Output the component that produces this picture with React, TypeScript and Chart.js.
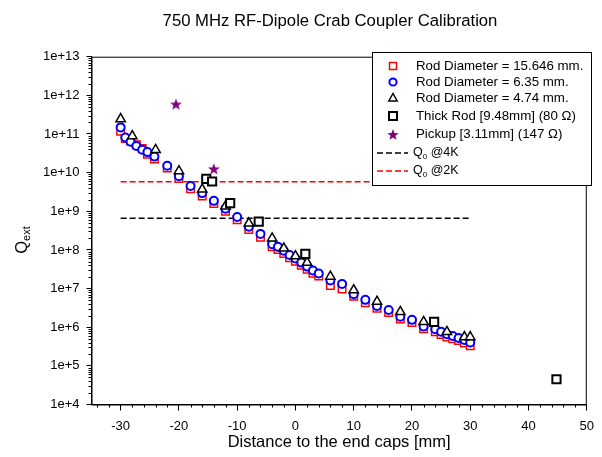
import React, { useEffect, useRef } from "react";
import { Chart, registerables } from "chart.js";

Chart.register(...registerables);

const FONT = "'Liberation Sans', Arial, sans-serif";

// shared positions for the 15.646 mm and 6.35 mm rods [mm]
const rodX = [
  -30, -29.2, -28.3, -27.3, -26.3, -25.4, -24.2, -22, -20, -18, -16, -14, -12, -10, -8, -6, -4, -3, -2, -1, 0,
  1, 2, 3, 4, 6, 8, 10, 12, 14, 16, 18, 20, 22, 24, 25, 26, 27, 28, 29, 30,
];
const rod15646 = [
  1.17e11, 7.6e10, 6.6e10, 5.25e10, 4.2e10, 3.0e10, 2.24e10, 1.32e10, 7.1e9, 3.8e9, 2.5e9, 1.58e9, 1.0e9, 6.0e8,
  3.4e8, 2.14e8, 1.2e8, 1.02e8, 8.1e7, 6.3e7, 5.1e7, 4.0e7, 3.16e7, 2.5e7, 2.1e7, 1.2e7, 9.8e6, 6.3e6, 4.3e6,
  3.1e6, 2.4e6, 1.62e6, 1.32e6, 9.1e5, 7.6e5, 6.5e5, 5.6e5, 5.0e5, 4.5e5, 3.9e5, 3.3e5,
];
const rod635 = [
  1.48e11, 8.1e10, 6.3e10, 4.9e10, 3.9e10, 3.4e10, 2.6e10, 1.5e10, 8.1e9, 4.5e9, 2.95e9, 1.86e9, 1.17e9, 7.1e8,
  4.0e8, 2.6e8, 1.41e8, 1.2e8, 9.5e7, 7.4e7, 6.0e7, 4.7e7, 3.7e7, 2.95e7, 2.45e7, 1.62e7, 1.32e7, 7.1e6, 5.1e6,
  3.55e6, 2.8e6, 1.86e6, 1.55e6, 1.05e6, 8.9e5, 7.6e5, 6.6e5, 5.9e5, 5.25e5, 4.7e5, 4.0e5,
];
const rod474X = [-30, -28, -24, -20, -16, -12, -8, -4, -2, 0, 2, 6, 10, 14, 18, 22, 26, 29, 30];
const rod474 = [
  2.45e11, 8.9e10, 3.9e10, 1.1e10, 3.7e9, 1.35e9, 4.9e8, 2.0e8, 1.1e8, 6.9e7, 4.7e7, 2.05e7, 9.1e6, 4.6e6, 2.5e6,
  1.38e6, 7.6e5, 5.6e5, 5.6e5,
];
const thickRodX = [-15.3, -14.3, -11.2, -6.3, 1.7, 23.8, 44.8];
const thickRod = [6.9e9, 5.9e9, 1.62e9, 5.4e8, 7.9e7, 1.38e6, 4.5e4];
const pickupX = [-20.5, -14.0];
const pickup = [5.9e11, 1.25e10];
const q0X = [-30, 30];
const q04K = [6.6e8, 6.6e8];
const q02K = [5.8e9, 5.8e9];

const xTicks = [-30, -20, -10, 0, 10, 20, 30, 40, 50];
const yTicks = [1e4, 1e5, 1e6, 1e7, 1e8, 1e9, 1e10, 1e11, 1e12, 1e13];

const PURPLE = "#800080";

function starPath(ctx: CanvasRenderingContext2D, cx: number, cy: number, ro: number, ri: number) {
  ctx.beginPath();
  for (let i = 0; i < 10; i++) {
    const r = i % 2 === 0 ? ro : ri;
    const a = -Math.PI / 2 + (i * Math.PI) / 5;
    const px = cx + r * Math.cos(a);
    const py = cy + r * Math.sin(a);
    if (i === 0) ctx.moveTo(px, py);
    else ctx.lineTo(px, py);
  }
  ctx.closePath();
}

function makeStar() {
  const c = document.createElement("canvas");
  c.width = 14;
  c.height = 14;
  const g = c.getContext("2d")!;
  g.fillStyle = PURPLE;
  starPath(g, 7, 7.5, 6.3, 2.6);
  g.fill();
  return c;
}

const pts = (xs: number[], ys: number[]) => xs.map((x, i) => ({ x, y: ys[i] }));

const decorPlugin = {
  id: "decor",
  afterDraw(chart: any) {
    const ctx: CanvasRenderingContext2D = chart.ctx;
    const { left, right, top, bottom } = chart.chartArea;
    const xs = chart.scales.x;
    const ys = chart.scales.y;
    ctx.save();

    // frame
    ctx.strokeStyle = "#000";
    ctx.lineWidth = 1;
    ctx.strokeRect(left + 0.5, top + 0.5, right - left - 1, bottom - top);

    // minor ticks
    ctx.beginPath();
    for (let v = -34; v <= 48; v += 2) {
      if (v % 10 === 0) continue;
      const px = Math.round(xs.getPixelForValue(v)) + 0.5;
      ctx.moveTo(px, bottom);
      ctx.lineTo(px, bottom + 3);
    }
    for (let d = 4; d < 13; d++) {
      for (let m = 2; m <= 9; m++) {
        const py = Math.round(ys.getPixelForValue(m * Math.pow(10, d))) + 0.5;
        ctx.moveTo(left - 3, py);
        ctx.lineTo(left, py);
      }
    }
    ctx.stroke();

    // title
    ctx.fillStyle = "#000";
    ctx.textBaseline = "middle";
    ctx.textAlign = "center";
    ctx.font = `16.7px ${FONT}`;
    ctx.fillText("750 MHz RF-Dipole Crab Coupler Calibration", 330, 21);

    // x title
    ctx.font = `16.5px ${FONT}`;
    ctx.fillText("Distance to the end caps [mm]", (left + right) / 2, 442);

    // y title with subscript
    ctx.save();
    ctx.translate(22, 240);
    ctx.rotate(-Math.PI / 2);
    ctx.textAlign = "left";
    ctx.font = `16.5px ${FONT}`;
    const wq = ctx.measureText("Q").width;
    ctx.font = `11px ${FONT}`;
    const we = ctx.measureText("ext").width;
    const sx = -(wq + we) / 2;
    ctx.font = `16.5px ${FONT}`;
    ctx.fillText("Q", sx, 0);
    ctx.font = `11px ${FONT}`;
    ctx.fillText("ext", sx + wq, 5);
    ctx.restore();

    // legend
    const lx = 372;
    const ly = 52;
    ctx.fillStyle = "#fff";
    ctx.fillRect(lx, ly, 220, 134);
    ctx.strokeStyle = "#000";
    ctx.lineWidth = 1;
    ctx.strokeRect(lx + 0.5, ly + 0.5, 219, 133);

    const sxc = 393;
    const tx = 416;
    const rows = [66, 82, 98, 116, 134.5, 153, 171];

    // red square
    ctx.strokeStyle = "#ff0000";
    ctx.lineWidth = 1.5;
    ctx.strokeRect(sxc - 3.5, rows[0] - 3.5, 7, 7);
    // blue circle
    ctx.strokeStyle = "#0000ff";
    ctx.lineWidth = 2;
    ctx.beginPath();
    ctx.arc(sxc, rows[1], 3.6, 0, Math.PI * 2);
    ctx.stroke();
    // triangle
    ctx.strokeStyle = "#000";
    ctx.lineWidth = 1.5;
    ctx.beginPath();
    ctx.moveTo(sxc, rows[2] - 4.5);
    ctx.lineTo(sxc + 4.2, rows[2] + 3);
    ctx.lineTo(sxc - 4.2, rows[2] + 3);
    ctx.closePath();
    ctx.stroke();
    // black square
    ctx.lineWidth = 2;
    ctx.strokeRect(sxc - 4, rows[3] - 4, 8, 8);
    // star
    ctx.fillStyle = PURPLE;
    starPath(ctx, sxc, rows[4] + 0.5, 6, 2.5);
    ctx.fill();
    // dashed lines
    ctx.lineWidth = 1.5;
    ctx.setLineDash([6, 3]);
    ctx.strokeStyle = "#000";
    ctx.beginPath();
    ctx.moveTo(377, rows[5]);
    ctx.lineTo(408, rows[5]);
    ctx.stroke();
    ctx.strokeStyle = "#ff0000";
    ctx.beginPath();
    ctx.moveTo(377, rows[6]);
    ctx.lineTo(408, rows[6]);
    ctx.stroke();
    ctx.setLineDash([]);

    ctx.fillStyle = "#000";
    ctx.textAlign = "left";
    ctx.font = `13.3px ${FONT}`;
    ctx.fillText("Rod Diameter = 15.646 mm.", tx, rows[0]);
    ctx.fillText("Rod Diameter = 6.35 mm.", tx, rows[1]);
    ctx.fillText("Rod Diameter = 4.74 mm.", tx, rows[2]);
    ctx.fillText("Thick Rod [9.48mm] (80 \u03a9)", tx, rows[3]);
    ctx.fillText("Pickup [3.11mm] (147 \u03a9)", tx, rows[4]);

    const qLabel = (y: number, rest: string) => {
      ctx.font = `12.5px ${FONT}`;
      ctx.fillText("Q", 413, y);
      const w = ctx.measureText("Q").width;
      ctx.font = `8px ${FONT}`;
      ctx.fillText("0", 413 + w, y + 4);
      const w0 = ctx.measureText("0").width;
      ctx.font = `12.5px ${FONT}`;
      ctx.fillText(rest, 413 + w + w0, y);
    };
    qLabel(rows[5], " @4K");
    qLabel(rows[6], " @2K");

    ctx.restore();
  },
};

const App: React.FC = () => {
  const canvasRef = useRef<HTMLCanvasElement>(null);

  useEffect(() => {
    const ctx = canvasRef.current?.getContext("2d");
    if (!ctx) return;
    const star = makeStar();

    const chart = new Chart(ctx, {
      type: "scatter",
      data: {
        datasets: [
          {
            label: "Q0 @4K",
            data: pts(q0X, q04K),
            showLine: true,
            borderColor: "#000",
            borderWidth: 1.5,
            borderDash: [6, 3],
            pointRadius: 0,
            order: 6,
          },
          {
            label: "Q0 @2K",
            data: pts(q0X, q02K),
            showLine: true,
            borderColor: "#ff0000",
            borderWidth: 1.5,
            borderDash: [6, 3],
            pointRadius: 0,
            order: 6,
          },
          {
            label: "Rod Diameter = 15.646 mm.",
            data: pts(rodX, rod15646),
            pointStyle: "rect",
            pointRadius: 5.3,
            borderColor: "#ff0000",
            backgroundColor: "#fff",
            borderWidth: 1.5,
            order: 5,
          },
          {
            label: "Rod Diameter = 6.35 mm.",
            data: pts(rodX, rod635),
            pointStyle: "circle",
            pointRadius: 4,
            borderColor: "#0000ff",
            backgroundColor: "#fff",
            borderWidth: 2,
            order: 4,
          },
          {
            label: "Rod Diameter = 4.74 mm.",
            data: pts(rod474X, rod474),
            pointStyle: "triangle",
            pointRadius: 5.4,
            borderColor: "#000",
            backgroundColor: "#fff",
            borderWidth: 1.5,
            order: 3,
          },
          {
            label: "Thick Rod [9.48mm] (80 \u03a9)",
            data: pts(thickRodX, thickRod),
            pointStyle: "rect",
            pointRadius: 5.8,
            borderColor: "#000",
            backgroundColor: "#fff",
            borderWidth: 2,
            order: 2,
          },
          {
            label: "Pickup [3.11mm] (147 \u03a9)",
            data: pts(pickupX, pickup),
            pointStyle: star,
            pointRadius: 6,
            order: 1,
          },
        ],
      },
      options: {
        responsive: false,
        animation: false,
        layout: { padding: { left: 0, right: 14.7, top: 56.7, bottom: 0 } },
        plugins: {
          legend: { display: false },
          tooltip: { enabled: false },
        },
        scales: {
          x: {
            type: "linear",
            min: -35,
            max: 50,
            afterFit: (s: any) => {
              s.height = 52.5;
            },
            afterBuildTicks: (s: any) => {
              s.ticks = xTicks.map((v) => ({ value: v }));
            },
            grid: { drawOnChartArea: false, drawTicks: true, tickLength: 6, color: "#000" },
            border: { color: "#000", width: 1 },
            ticks: {
              color: "#000",
              font: { family: FONT, size: 13 },
              padding: 8,
              maxRotation: 0,
              autoSkip: false,
            },
          },
          y: {
            type: "logarithmic",
            min: 1e4,
            max: 1e13,
            afterFit: (s: any) => {
              s.width = 91.5;
            },
            afterBuildTicks: (s: any) => {
              s.ticks = yTicks.map((v) => ({ value: v }));
            },
            grid: { drawOnChartArea: false, drawTicks: true, tickLength: 5, color: "#000" },
            border: { color: "#000", width: 1 },
            ticks: {
              color: "#000",
              font: { family: FONT, size: 13 },
              padding: 7,
              autoSkip: false,
              callback: (v: any) => "1e+" + Math.round(Math.log10(Number(v))),
            },
          },
        },
      },
      plugins: [decorPlugin],
    });

    return () => {
      chart.destroy();
    };
  }, []);

  return (
    <div style={{ position: "absolute", left: 0, top: 0, width: 602, height: 457, background: "#fff" }}>
      <canvas ref={canvasRef} width={602} height={457} style={{ display: "block" }} />
    </div>
  );
};

export default App;
